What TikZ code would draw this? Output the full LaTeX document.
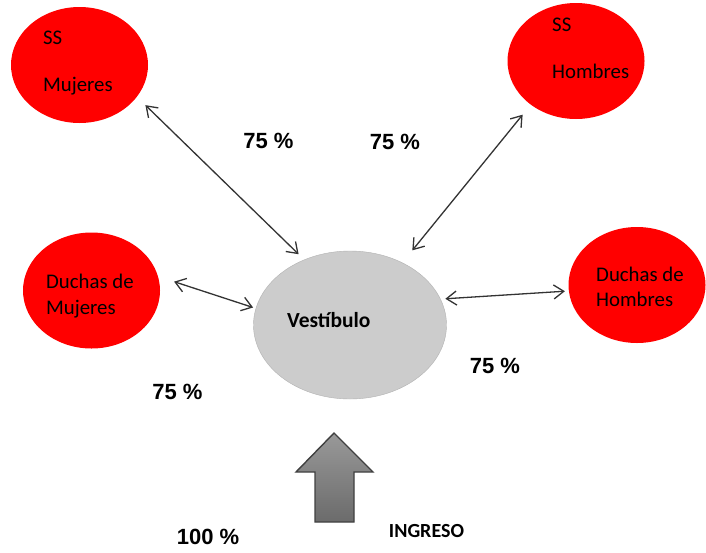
\documentclass[tikz,border=0pt]{standalone}
\usepackage{fontspec}
\setmainfont{Carlito}
\newfontfamily\arialfont{Liberation Sans}
\usetikzlibrary{arrows.meta,shapes.geometric}

\begin{document}
\begin{tikzpicture}[
x=1pt, y=-1pt,
sala/.style={ellipse, fill=red, minimum width=137pt, minimum height=116pt, inner sep=0pt, outer sep=0pt},
hall/.style={ellipse, draw=gray!60, fill=gray!40, minimum width=193pt, minimum height=148pt, inner sep=0pt, outer sep=0pt},
txt/.style={anchor=west, align=left, inner sep=0pt, font=\fontsize{20.8}{25.5}\selectfont},
pct/.style={inner sep=0pt, font=\arialfont\bfseries\fontsize{22}{26}\selectfont},
arrow/.style={{Straight Barb[length=10pt,width=14pt]}-{Straight Barb[length=10pt,width=14pt]}, line width=1.3pt, draw=black!80},
entrada/.style={draw=black!75, line width=1.4pt, top color=black!40, bottom color=black!58}
]
\useasboundingbox (0,0) rectangle (706,552);

% salas
\node[sala] (ssm) at (79.5,65) {};
\node[sala] (ssh) at (576,61) {};
\node[sala] (dm) at (91.5,290.5) {};
\node[sala] (dh) at (637,285) {};
\node[hall] (vest) at (350,325) {};

% textos de las salas
\node[txt, font=\fontsize{20.8}{24}\selectfont] (ssmt) at (43,63) {SS\\[23pt]Mujeres};
\node[txt, font=\fontsize{20.8}{24}\selectfont] (ssht) at (552,48) {SS\\[23pt]Hombres};
\node[txt] (dmt) at (46,296) {Duchas de\\Mujeres};
\node[txt] (dht) at (596,287) {Duchas de\\Hombres};
\node[txt, font=\bfseries\fontsize{21.5}{24}\selectfont] (vestt) at (287,320) {Vestíbulo};

% circulaciones
\draw[arrow, shorten <=12pt, shorten >=8pt] (ssm.-29) -- (vest.125);
\draw[arrow, shorten <=13pt, shorten >=16pt] (ssh.224) -- (vest.50);
\draw[arrow, shorten <=17pt, shorten >=3pt] (dm.12) -- (vest.170);
\draw[arrow, shorten <=5pt, shorten >=4pt] (vest.16) -- (dh.185);

% porcentajes
\node[pct] (p1) at (268.5,141) {75 \%};
\node[pct] (p2) at (395,142) {75 \%};
\node[pct] (p3) at (177.5,392) {75 \%};
\node[pct] (p4) at (495,366) {75 \%};
\node[pct] (p5) at (208,536.5) {100 \%};

% ingreso
\draw[entrada] (334,433) -- (373,472) -- (354,472) -- (354,522) -- (315,522) -- (315,472) -- (296,472) -- cycle;
\node[inner sep=0pt, font=\bfseries\fontsize{20}{22}\selectfont] (ing) at (426.5,531.5) {INGRESO};
\end{tikzpicture}
\end{document}
